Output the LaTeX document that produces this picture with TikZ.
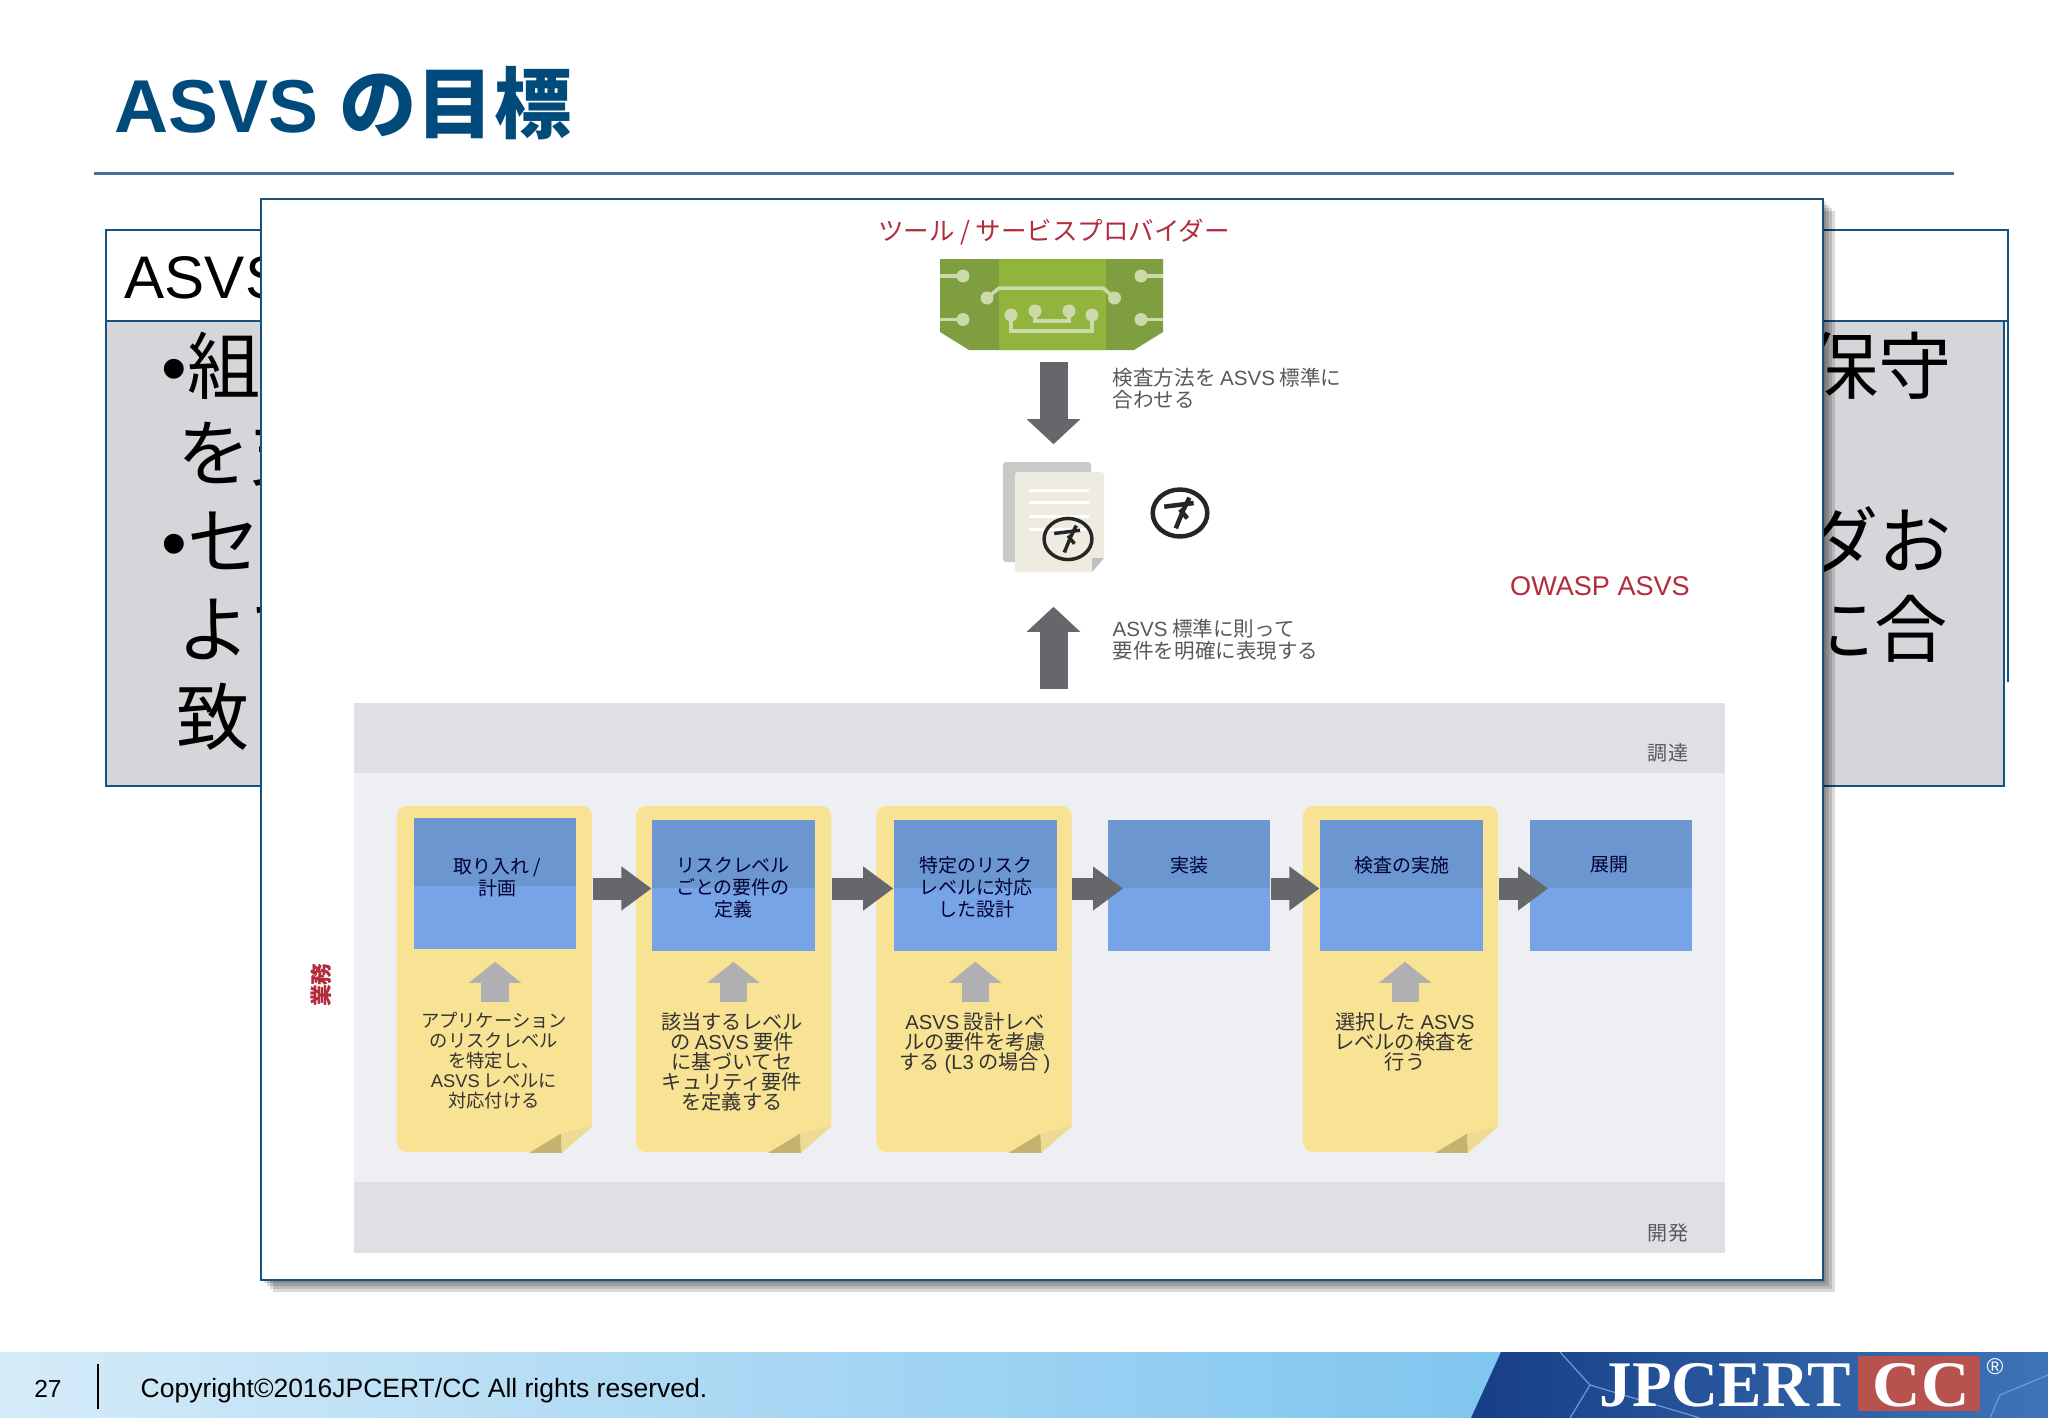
\documentclass[tikz,border=0pt]{standalone}
\usepackage{fontspec}
\setmainfont{Liberation Sans}
\newfontfamily\cjk{Noto Sans CJK JP}
\newfontfamily\lat{Liberation Sans}
\newfontfamily\logofont{Liberation Serif}
\usetikzlibrary{arrows.meta}
\definecolor{navy}{HTML}{17517E}
\definecolor{titleblue}{HTML}{004A7C}
\definecolor{rulecol}{HTML}{41719C}
\definecolor{bodygray}{HTML}{D6D6DA}
\definecolor{bandgray}{HTML}{DFE0E3}
\definecolor{midgray}{HTML}{EDEFF2}
\definecolor{notecol}{HTML}{F8E293}
\definecolor{flaplight}{HTML}{EDDB95}
\definecolor{flapdark}{HTML}{C4B26F}
\definecolor{boxdark}{HTML}{6C96CF}
\definecolor{boxlight}{HTML}{77A4E6}
\definecolor{arrowgray}{HTML}{66676B}
\definecolor{liftgray}{HTML}{B0B0B2}
\definecolor{labelred}{HTML}{B22C3C}
\definecolor{chipdark}{HTML}{7F9E3F}
\definecolor{chiplight}{HTML}{91B53C}
\definecolor{chipline}{HTML}{CBDAA8}
\definecolor{sheetback}{HTML}{C9C9C7}
\definecolor{sheetfront}{HTML}{EEEBE0}
\definecolor{footleft}{HTML}{D5EBF8}
\definecolor{footmid}{HTML}{B8DEF4}
\definecolor{footright}{HTML}{7FC5EF}
\definecolor{logoleft}{HTML}{163E86}
\definecolor{logoright}{HTML}{3E74B8}
\definecolor{logocrack}{HTML}{6F9BD0}
\definecolor{ccred}{HTML}{B8524E}
% one sticky note corner, relative to the note node
\newcommand{\notefold}[1]{
    \fill[midgray] (#1.south east) ++(0.5,-27) -- ++(0,27.5) -- ++(-31.5,0) -- cycle;
    \fill[flaplight] (#1.south east) ++(0,-27) -- ++(-31,27) -- ++(-1,-19) -- cycle;
    \fill[flapdark] (#1.south east) ++(-63.5,0) -- ++(32.5,0) -- ++(-1,-19) -- cycle;
}
% the wasp mark
\newcommand{\waspmark}[4]{
    \begin{scope}[shift={(#1,#2)},xscale=#3,yscale=#3*0.86]
        \draw[line width=#4,color=black!85] (0,0) circle (26);
        \draw[line width=#4,color=black!85] (-15,-7) -- (13,-11);
        \draw[line width=#4,color=black!85] (9,-17) -- (3,-3) -- (-4,17);
        \draw[line width=#4,color=black!85] (0,-4) -- (7,6);
    \end{scope}
}
\newcommand{\asvs}{{\lat ASVS}}

\begin{document}
\begin{tikzpicture}[x=0.01cm,y=-0.01cm,
    title/.style={font=\fontsize{21.3}{24}\selectfont\bfseries,text=titleblue,inner sep=0,anchor=base west},
    backhead/.style={font=\lat\fontsize{17.1}{20}\selectfont,inner sep=0,anchor=base west},
    backtext/.style={font=\cjk\fontsize{20.8}{24}\selectfont,inner sep=0},
    toplabel/.style={font=\cjk\fontsize{7.25}{9}\selectfont,text=labelred,inner sep=0},
    sidetext/.style={font=\cjk\fontsize{5.85}{6.4}\selectfont,text=black!65,inner sep=0,align=left},
    bandtext/.style={font=\cjk\fontsize{5.7}{6.4}\selectfont,text=black!65,inner sep=0},
    band/.style={rectangle,inner sep=0,minimum width=13.705cm},
    sticky/.style={rectangle,rounded corners=0.1cm,fill=notecol,inner sep=0,minimum width=1.95cm,minimum height=3.46cm},
    bluebox/.style={rectangle,fill=boxlight,inner sep=0,minimum width=1.625cm,minimum height=1.31cm,
        path picture={\fill[boxdark] (path picture bounding box.north west) rectangle ([yshift=-0.025cm]path picture bounding box.east);}},
    boxtext/.style={font=\cjk\fontsize{5.4}{6.26}\selectfont,text=black!80!blue,inner sep=0,align=center,anchor=north},
    notetext/.style={font=\cjk\fontsize{5.75}{5.69}\selectfont,text=black!80,inner sep=0,align=center,anchor=north},
    flowarrow/.style={draw=arrowgray,line width=0.22cm,-{Triangle[length=0.3cm,width=0.42cm]},transform canvas={yshift=-0.03cm}},
    bigarrow/.style={draw=arrowgray,line width=0.28cm,-{Triangle[length=0.25cm,width=0.52cm]}},
    liftarrow/.style={draw=liftgray,line width=0.27cm,-{Triangle[length=0.21cm,width=0.51cm]}}]
    \useasboundingbox (0,0) rectangle (2048,1418);
    \fill[white] (0,0) rectangle (2048,1418);

    % title
    \node[title] (head) at (114,132) {ASVS {\cjk\fontsize{22}{24}\selectfont の目標}};
    \draw[rulecol,line width=0.03cm] (94,173) -- (1954,173);

    % slide behind the popup
    \draw[navy,line width=0.02cm] (2008,230) -- (2008,682);
    \draw[navy,line width=0.02cm,fill=white] (106,230) rectangle (2008,321);
    \draw[navy,line width=0.02cm,fill=bodygray] (106,321) rectangle (2004,786);
    \node[backhead] (backhead) at (124,298) {ASVS};
    \node[backtext,anchor=base west] (left1) at (161,393) {\lat•\cjk 組};
    \node[backtext,anchor=base west] (left2) at (177,480) {を支};
    \node[backtext,anchor=base west] (left3) at (161,568) {\lat•\cjk セ};
    \node[backtext,anchor=base west] (left4) at (177,656) {よび};
    \node[backtext,anchor=base west] (left5) at (176,744) {致};
    \node[backtext,anchor=base east] (right1) at (1952,393) {保守};
    \node[backtext,anchor=base east] (right2) at (1952,568) {ダお};
    \node[backtext,anchor=base east] (right3) at (1948,656) {に合};

    % popup with its soft shadow
    \foreach \s in {3,6,9,12}
        \fill[black,opacity=0.14] (261+\s,199+\s) rectangle (1823+\s,1280+\s);
    \node[rectangle,draw=navy,line width=0.02cm,fill=white,inner sep=0,minimum width=15.62cm,minimum height=10.81cm] (popup) at (1042,739.5) {};

    % top of the diagram
    \node[toplabel] (provider) at (1054,232) {ツール / サービスプロバイダー};
    \node[inner sep=0,minimum width=2.23cm,minimum height=0.91cm] (chip) at (1051.5,304.5) {};
    \fill[chipdark] (940,259) -- (1163,259) -- (1163,332) -- (1134,350) -- (969,350) -- (940,332) -- cycle;
    \fill[chiplight] (999,259) rectangle (1106,350);
    \draw[chipline,line width=0.035cm] (940,276) -- (963,276);
    \draw[chipline,line width=0.035cm] (940,319.5) -- (963,319.5);
    \draw[chipline,line width=0.035cm] (1163,276) -- (1141,276);
    \draw[chipline,line width=0.035cm] (1163,319.5) -- (1141,319.5);
    \draw[chipline,line width=0.035cm] (987,298) -- (999,288) -- (1103,288) -- (1114.5,298);
    \draw[chipline,line width=0.035cm] (1011,315) -- (1011,331) -- (1092,331) -- (1092,315);
    \draw[chipline,line width=0.035cm] (1035,311) -- (1035,321) -- (1069,321) -- (1069,311);
    \foreach \x/\y in {963/276,963/319.5,1141/276,1141/319.5,987/298,1114.5/298,1011/315,1035/311,1069/311,1092/315}
        \fill[chipline] (\x,\y) circle (6.5);

    \node[inner sep=0,minimum width=1.01cm,minimum height=1.10cm] (docs) at (1053.5,517) {};
    \fill[sheetback,rounded corners=0.03cm] (1003,462) rectangle (1091,562);
    \fill[sheetfront,rounded corners=0.03cm] (1015,472) -- (1104,472) -- (1104,558) -- (1092,572) -- (1015,572) -- cycle;
    \fill[black!25] (1104,558) -- (1092,558) -- (1092,572) -- cycle;
    \foreach \y in {490,502,516,529}
        \draw[white,line width=0.03cm] (1029,\y) -- (1089,\y);
    \waspmark{1068}{539}{0.92}{0.035cm}
    \waspmark{1180}{513}{1.05}{0.045cm}

    \node[sidetext,anchor=north west] (alignnote) at (1112,367) {検査方法を \asvs{} 標準に\\合わせる};
    \node[sidetext,anchor=north west] (reqnote) at (1112,618) {\asvs{} 標準に則って\\要件を明確に表現する};
    \node[toplabel,anchor=base,font=\lat\fontsize{7.7}{9}\selectfont] (owasp) at (1600,595) {OWASP ASVS};

    % bands
    \node[band,fill=midgray,minimum height=5.5cm] (midband) at (1039.25,978) {};
    \node[band,fill=bandgray,minimum height=0.70cm] (procband) at (1039.25,738) {};
    \node[band,fill=bandgray,minimum height=0.71cm] (devband) at (1039.25,1217.5) {};
    \node[bandtext] (proclabel) at (1668,753) {調達};
    \node[bandtext] (devlabel) at (1668,1233) {開発};
    \node[toplabel,rotate=90,font=\cjk\bfseries\fontsize{6.2}{8}\selectfont] (bizlabel) at (321,985) {業務};

    \draw[bigarrow,shorten <=0.11cm,shorten >=0.17cm] (docs.north |- chip.south) -- (docs.north);
    \draw[bigarrow,shorten <=0.13cm,shorten >=0.34cm] (procband.north -| docs.south) -- (docs.south);

    % sticky notes
    \node[sticky] (note1) at (494.5,979) {};
    \node[sticky] (note2) at (733.5,979) {};
    \node[sticky] (note3) at (974,979) {};
    \node[sticky] (note4) at (1400.5,979) {};
    \notefold{note1}
    \notefold{note2}
    \notefold{note3}
    \notefold{note4}

    % process boxes
    \node[bluebox] (box1) at (495,883.5) {};
    \node[bluebox] (box2) at (733.5,885.5) {};
    \node[bluebox] (box3) at (975.25,885.5) {};
    \node[bluebox] (box4) at (1189,885.5) {};
    \node[bluebox] (box5) at (1401.5,885.5) {};
    \node[bluebox] (box6) at (1611,885.5) {};
    \node[boxtext] (box1t) at (497,858) {取り入れ /\\計画};
    \node[boxtext] (box2t) at (733,856) {リスクレベル\\ごとの要件の\\定義};
    \node[boxtext] (box3t) at (976,856) {特定のリスク\\レベルに対応\\した設計};
    \node[boxtext] (box4t) at (1189,856) {実装};
    \node[boxtext] (box5t) at (1401.5,856) {検査の実施};
    \node[boxtext] (box6t) at (1609,856) {展開};

    % what goes into each step
    \node[notetext,font=\cjk\fontsize{5.2}{5.69}\selectfont] (note1t) at (494,1012) {アプリケーション\\のリスクレベル\\を特定し、\\\asvs{} レベルに\\対応付ける};
    \node[notetext] (note2t) at (732,1012) {該当するレベル\\の \asvs{} 要件\\に基づいてセ\\キュリティ要件\\を定義する};
    \node[notetext] (note3t) at (975,1012) {\asvs{} 設計レベ\\ルの要件を考慮\\する {\lat(L3} の場合 {\lat)}};
    \node[notetext] (note5t) at (1405,1012) {選択した \asvs\\レベルの検査を\\行う};
    \draw[liftarrow,shorten <=0.10cm,shorten >=0.12cm] (note1t.north -| box1.south) -- (box1.south);
    \draw[liftarrow,shorten <=0.10cm,shorten >=0.10cm] (note2t.north -| box2.south) -- (box2.south);
    \draw[liftarrow,shorten <=0.10cm,shorten >=0.10cm] (note3t.north -| box3.south) -- (box3.south);
    \draw[liftarrow,shorten <=0.10cm,shorten >=0.10cm] (note5t.north) -- (note5t.north |- box5.south);

    % flow between the steps
    \draw[flowarrow] (note1.east |- box2.west) -- (box2.west);
    \draw[flowarrow] (note2.east |- box3.west) -- (box3.west);
    \draw[flowarrow,shorten >=-0.16cm] (note3.east |- box4.west) -- (box4.west);
    \draw[flowarrow] (box4.east) -- (box5.west);
    \draw[flowarrow,shorten >=-0.19cm] (note4.east |- box6.west) -- (box6.west);

    % footer
    \shade[left color=footleft,middle color=footmid,right color=footright] (0,1352) rectangle (1510,1418);
    \shade[left color=logoleft,right color=logoright] (1501,1352) -- (2048,1352) -- (2048,1418) -- (1471,1418) -- cycle;
    \draw[logocrack,line width=0.012cm] (1560,1352) -- (1590,1385) -- (1570,1418);
    \draw[logocrack,line width=0.012cm] (1590,1385) -- (1640,1400) -- (1700,1418);
    \draw[logocrack,line width=0.012cm] (1990,1418) -- (2000,1395) -- (2048,1375);
    \node[inner sep=0,font=\fontsize{7}{8}\selectfont] (pagenum) at (48,1389) {27};
    \draw[black,line width=0.025cm] (98,1364) -- (98,1409);
    \node[inner sep=0,anchor=base west,font=\fontsize{7.53}{8}\selectfont] (copyright) at (140,1397) {Copyright©2016JPCERT/CC All rights reserved.};
    \node[rectangle,fill=ccred,inner sep=0,minimum width=1.22cm,minimum height=0.55cm] (ccbox) at (1919,1383.5) {};
    \node[inner sep=0,anchor=base west,text=white,font=\logofont\bfseries\fontsize{18.5}{20}\selectfont] (jpcert) at (1599,1406) {JPCERT};
    \node[inner sep=0,anchor=base,text=white,font=\logofont\bfseries\fontsize{18.5}{20}\selectfont,xscale=1.03,transform shape] (cc) at (1921,1406) {CC};
    \node[inner sep=0,text=white,font=\fontsize{6.5}{8}\selectfont] (regmark) at (1995,1367) {®};
\end{tikzpicture}
\end{document}
